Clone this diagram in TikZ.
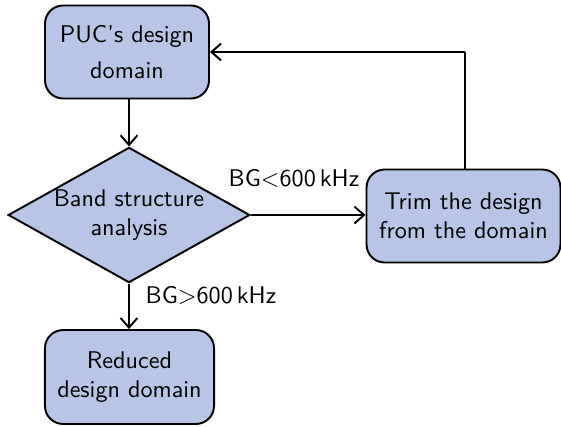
\documentclass[tikz,border=0pt]{standalone}
\usetikzlibrary{shapes.geometric,arrows.meta}
\renewcommand{\familydefault}{\sfdefault}
\definecolor{boxfill}{RGB}{184,197,230}
\begin{document}
\begin{tikzpicture}[x=0.414pt,y=-0.414pt,
  every node/.style={font=\sffamily},
  procbox/.style={draw=black,fill=boxfill,line width=0.8pt,rounded corners=7.5pt,
    align=center,inner sep=0pt},
  decbox/.style={draw=black,fill=boxfill,line width=0.8pt,diamond,align=center,
    inner sep=0pt,minimum width=100pt,minimum height=56pt,shape aspect=1.8},
  flow/.style={line width=0.8pt,-{Straight Barb[length=4pt,width=7pt,line width=0.8pt]}},
  plain/.style={line width=0.8pt}]
\useasboundingbox (0,0) rectangle (561,427);
\node[procbox,minimum width=67.9pt,minimum height=38.5pt] (puc) at (127,52)
  {PUC's design\\[3pt] domain};
\node[decbox] (band) at (129,215) {Band structure\\ analysis};
\node[procbox,minimum width=80.3pt,minimum height=38.5pt] (trim) at (463.5,216)
  {Trim the design\\ from the domain};
\node[procbox,minimum width=70pt,minimum height=38.9pt] (red) at (129.5,377)
  {Reduced\\ design domain};
\coordinate (corner) at (465,52);
\draw[flow] (puc.south -| band.north) -- (band.north);
\draw[flow] (band.east) -- (trim.west |- band.east);
\draw[flow] (band.south) -- (red.north -| band.south);
\draw[plain] (trim.north -| corner) -- (corner);
\draw[flow] (corner) -- (puc.east);
\node (lt) at (294,178) {BG$<$600\,kHz};
\node (gt) at (211,295) {BG$>$600\,kHz};
\end{tikzpicture}
\end{document}
